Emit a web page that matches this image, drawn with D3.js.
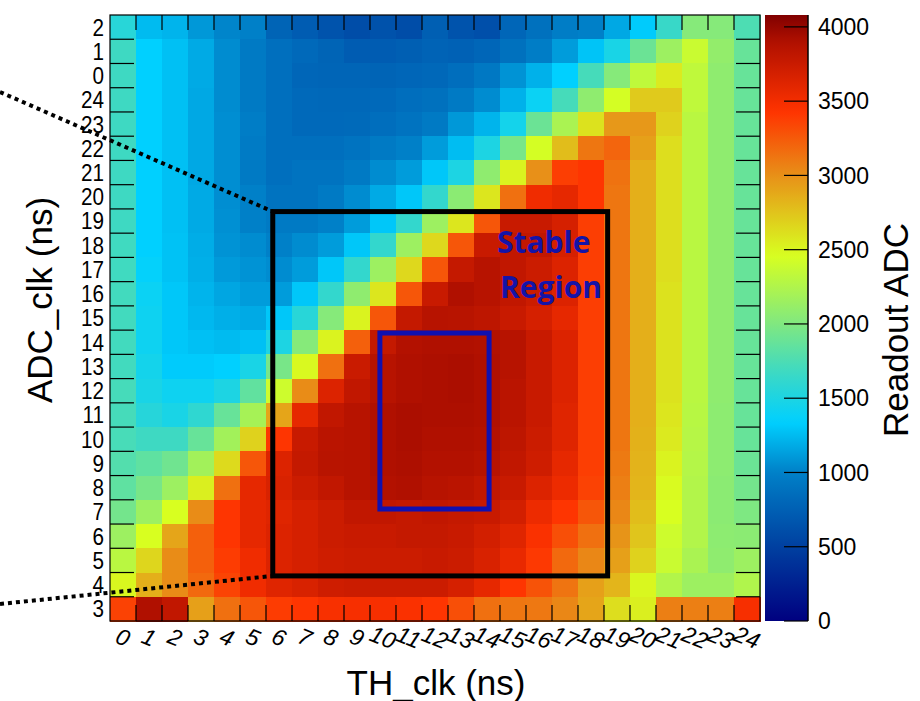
<!DOCTYPE html>
<html lang="en">
<head>
<meta charset="UTF-8">
<title>Readout ADC vs TH_clk / ADC_clk</title>
<script src="https://d3js.org/d3.v7.min.js"></script>
<style>
    body { margin: 0; background: #fff; }
    svg { display: block; font-family: "Liberation Sans", Arial, sans-serif; }
</style>
</head>
<body>
<svg id="chart" width="920" height="701"></svg>
<script>
// x categories (TH_clk, ns) and y categories (ADC_clk, ns) top to bottom
const thLabels = d3.range(0, 25).map(String);
const adcLabels = ["2", "1", "0", "24", "23", "22", "21", "20", "19", "18", "17", "16", "15",
                   "14", "13", "12", "11", "10", "9", "8", "7", "6", "5", "4", "3"];

// readout ADC, one row per ADC_clk label (same order as adcLabels), one value per TH_clk
const readout = [
    [1560,1250,1220,1100,1020,1000,780,720,650,600,640,600,740,650,620,800,880,980,1000,1170,1320,1650,2030,2030,1750],
    [1680,1340,1270,1180,1050,950,870,820,780,720,720,740,770,760,800,880,980,1120,1290,1480,1900,2150,2380,2100,1880],
    [1680,1340,1270,1180,1050,950,870,800,790,790,780,800,810,860,940,1080,1210,1340,1720,2030,2330,2560,2330,2080,1880],
    [1680,1340,1270,1170,1050,950,870,820,810,810,820,860,880,950,1050,1210,1400,1720,2080,2440,2720,2720,2330,2080,1880],
    [1680,1340,1270,1170,1060,980,870,820,820,830,860,900,950,1100,1220,1450,1900,2220,2600,2960,2960,2680,2300,2080,1880],
    [1680,1340,1270,1170,1060,960,870,870,870,900,950,1000,1120,1260,1500,1960,2440,2780,3120,3200,2920,2620,2300,2080,1880],
    [1680,1340,1270,1170,1060,950,870,900,900,950,1050,1120,1300,1500,2080,2520,3000,3380,3420,3140,2850,2620,2300,2080,1880],
    [1680,1340,1270,1180,1060,1000,900,900,950,1050,1180,1300,1620,2060,2580,3150,3520,3580,3420,3120,2850,2620,2300,2080,1880],
    [1680,1340,1270,1180,1070,1000,950,950,1000,1120,1300,1620,2150,2580,3270,3760,3760,3680,3380,3120,2850,2620,2300,2080,1880],
    [1690,1340,1280,1190,1080,1050,1000,1050,1120,1300,1620,2150,2650,3270,3760,3800,3800,3680,3380,3120,2850,2620,2300,2080,1880],
    [1690,1360,1280,1200,1110,1080,1050,1120,1300,1620,2150,2650,3270,3780,3860,3800,3740,3640,3380,3120,2850,2620,2300,2080,1880],
    [1700,1400,1300,1220,1160,1120,1120,1300,1620,2080,2580,3270,3760,3900,3860,3800,3740,3640,3380,3120,2850,2600,2300,2080,1880],
    [1700,1420,1300,1240,1200,1180,1300,1560,2030,2520,3270,3780,3860,3850,3820,3760,3680,3580,3380,3120,2850,2600,2300,2080,1880],
    [1700,1420,1300,1270,1250,1270,1500,2030,2520,3220,3780,3880,3900,3900,3890,3860,3760,3640,3380,3120,2850,2600,2300,2080,1880],
    [1700,1450,1320,1320,1340,1480,1960,2490,3150,3750,3860,3900,3910,3920,3900,3860,3760,3640,3380,3120,2850,2600,2300,2080,1880],
    [1720,1480,1420,1420,1500,1850,2400,3020,3640,3800,3860,3900,3910,3920,3900,3840,3760,3640,3380,3120,2850,2600,2300,2080,1880],
    [1720,1550,1480,1600,1880,2200,2900,3580,3800,3860,3900,3920,3910,3910,3900,3840,3760,3620,3380,3120,2850,2580,2290,2070,1880],
    [1730,1680,1680,1880,2180,2680,3420,3760,3840,3860,3900,3920,3900,3900,3880,3820,3740,3620,3380,3120,2840,2560,2280,2070,1880],
    [1780,1840,1920,2180,2640,3270,3640,3780,3850,3860,3900,3910,3880,3880,3860,3800,3720,3580,3380,3100,2830,2520,2270,2070,1900],
    [1840,1960,2150,2540,3150,3580,3660,3740,3800,3860,3880,3900,3860,3840,3800,3760,3640,3540,3360,3080,2820,2480,2260,2060,1940],
    [1940,2150,2460,3020,3420,3580,3620,3680,3740,3800,3800,3780,3800,3780,3760,3700,3540,3420,3270,3040,2780,2460,2260,2060,1990],
    [2150,2460,2900,3220,3420,3580,3640,3680,3740,3760,3760,3780,3780,3760,3700,3620,3460,3300,3150,2980,2740,2400,2260,2070,2060],
    [2300,2660,3020,3220,3390,3520,3640,3680,3720,3740,3740,3740,3760,3740,3660,3560,3400,3180,3040,2920,2680,2380,2220,2080,2150],
    [2500,2850,3020,3180,3350,3520,3620,3660,3720,3740,3740,3740,3740,3680,3580,3420,3280,3130,2920,2820,2500,2260,2150,2150,2250],
    [3360,3900,3800,2920,3150,3270,3390,3420,3470,3480,3480,3460,3420,3300,3150,3120,3110,3040,2900,2620,2540,3080,3080,3080,3480]
];

const colorTicks = [0, 500, 1000, 1500, 2000, 2500, 3000, 3500, 4000];
const zMax = 4080;

// palette (ROOT-like rainbow)
const paletteStops = [0, 500, 1000, 1340, 1650, 2000, 2460, 3000, 3430, 3900, 4080];
const paletteColors = ["#000080", "#0040a0", "#0080c8", "#00d0ff", "#38d8c8",
                       "#80e880", "#d8ff20", "#e89018", "#ff3300", "#b01000", "#800000"];

const svg = d3.select("#chart");
const plot = { left: 110, right: 760, top: 15, bottom: 621 };

const x = d3.scaleBand().domain(thLabels).range([plot.left, plot.right]);
const y = d3.scaleBand().domain(adcLabels).range([plot.top, plot.bottom]);
// continuous bin coordinates, for ticks and annotations
const xPos = d3.scaleLinear().domain([0, 25]).range([plot.left, plot.right]);
const yPos = d3.scaleLinear().domain([0, 25]).range([plot.top, plot.bottom]);

const color = d3.scaleLinear().domain(paletteStops).range(paletteColors).clamp(true);

// cells
const cells = [];
readout.forEach((row, i) => row.forEach((v, j) => cells.push({ adc: adcLabels[i], th: thLabels[j], v })));

svg.append("g")
    .selectAll("rect")
    .data(cells)
    .join("rect")
    .attr("x", d => x(d.th))
    .attr("y", d => y(d.adc))
    .attr("width", x.bandwidth() + 0.6)
    .attr("height", y.bandwidth() + 0.6)
    .attr("fill", d => color(d.v))
    .attr("shape-rendering", "crispEdges");

// frame
svg.append("rect")
    .attr("x", plot.left).attr("y", plot.top)
    .attr("width", plot.right - plot.left).attr("height", plot.bottom - plot.top)
    .attr("fill", "none").attr("stroke", "#000").attr("stroke-width", 1.2);

// ticks at bin edges
const ticks = svg.append("g").attr("stroke", "#000").attr("stroke-width", 1.2);
d3.range(1, 25).forEach(k => {
    ticks.append("line").attr("x1", plot.left).attr("x2", plot.left + 24)
        .attr("y1", yPos(k)).attr("y2", yPos(k));
    ticks.append("line").attr("x1", plot.right - 24).attr("x2", plot.right)
        .attr("y1", yPos(k)).attr("y2", yPos(k));
    ticks.append("line").attr("x1", xPos(k)).attr("x2", xPos(k))
        .attr("y1", plot.top).attr("y2", plot.top + 15);
    ticks.append("line").attr("x1", xPos(k)).attr("x2", xPos(k))
        .attr("y1", plot.bottom - 16).attr("y2", plot.bottom);
});

// y labels (narrow, tall digits)
const sx = 0.88;
svg.append("g")
    .attr("transform", `scale(${sx},1)`)
    .selectAll("text")
    .data(adcLabels)
    .join("text")
    .attr("x", 104 / sx)
    .attr("y", d => y(d) + y.bandwidth() / 2)
    .attr("dy", "0.36em")
    .attr("text-anchor", "end")
    .attr("font-size", 23.5)
    .text(d => d);

// x labels (tilted)
svg.append("g")
    .selectAll("text")
    .data(thLabels)
    .join("text")
    .attr("transform", d => `translate(${x(d) + x.bandwidth() / 2},637) rotate(22)`)
    .attr("dy", "0.36em")
    .attr("text-anchor", "middle")
    .attr("font-size", 23)
    .attr("font-style", "italic")
    .text(d => d);

// axis titles
svg.append("text")
    .attr("x", 436).attr("y", 695)
    .attr("text-anchor", "middle")
    .attr("font-size", 35)
    .text("TH_clk (ns)");

svg.append("text")
    .attr("transform", "translate(52,300) rotate(-90)")
    .attr("text-anchor", "middle")
    .attr("font-size", 35)
    .text("ADC_clk (ns)");

// colour bar
const cb = { x: 765, w: 43 };
const cScale = d3.scaleLinear().domain([0, zMax]).range([plot.bottom, plot.top]);

const grad = svg.append("defs").append("linearGradient")
    .attr("id", "pal").attr("x1", 0).attr("y1", 1).attr("x2", 0).attr("y2", 0);
d3.range(0, 81).forEach(k => {
    const v = zMax * k / 80;
    grad.append("stop").attr("offset", k / 80).attr("stop-color", color(v));
});

svg.append("rect")
    .attr("x", cb.x).attr("y", plot.top)
    .attr("width", cb.w).attr("height", plot.bottom - plot.top)
    .attr("fill", "url(#pal)");
svg.append("line")
    .attr("x1", cb.x + cb.w).attr("x2", cb.x + cb.w)
    .attr("y1", plot.top).attr("y2", plot.bottom)
    .attr("stroke", "#000").attr("stroke-width", 1.5);

const cbAxis = svg.append("g");
cbAxis.selectAll("line")
    .data(colorTicks)
    .join("line")
    .attr("x1", cb.x + cb.w - 24).attr("x2", cb.x + cb.w)
    .attr("y1", d => cScale(d)).attr("y2", d => cScale(d))
    .attr("stroke", "#000").attr("stroke-width", 1.2);
cbAxis.selectAll("text")
    .data(colorTicks)
    .join("text")
    .attr("x", cb.x + cb.w + 10)
    .attr("y", d => cScale(d))
    .attr("dy", "0.36em")
    .attr("font-size", 23)
    .text(d => d);

svg.append("text")
    .attr("transform", "translate(908,330) rotate(-90)")
    .attr("text-anchor", "middle")
    .attr("font-size", 35)
    .text("Readout ADC");

// annotations
const box = { x0: 6.26, x1: 19.14, y0: 8.11, y1: 23.14 };
const stable = { x0: 10.38, x1: 14.58, y0: 13.12, y1: 20.38 };

svg.append("line")
    .attr("x1", 0).attr("y1", 92)
    .attr("x2", xPos(box.x0)).attr("y2", yPos(box.y0))
    .attr("stroke", "#000").attr("stroke-width", 4).attr("stroke-dasharray", "4 4");
svg.append("line")
    .attr("x1", 0).attr("y1", 604)
    .attr("x2", xPos(box.x0)).attr("y2", yPos(box.y1))
    .attr("stroke", "#000").attr("stroke-width", 4).attr("stroke-dasharray", "4 4");

svg.append("rect")
    .attr("x", xPos(box.x0)).attr("y", yPos(box.y0))
    .attr("width", xPos(box.x1) - xPos(box.x0)).attr("height", yPos(box.y1) - yPos(box.y0))
    .attr("fill", "none").attr("stroke", "#000").attr("stroke-width", 5);

svg.append("rect")
    .attr("x", xPos(stable.x0)).attr("y", yPos(stable.y0))
    .attr("width", xPos(stable.x1) - xPos(stable.x0)).attr("height", yPos(stable.y1) - yPos(stable.y0))
    .attr("fill", "none").attr("stroke", "#1010b0").attr("stroke-width", 5);

const label = svg.append("g")
    .attr("font-family", "'Open Sans', sans-serif")
    .attr("font-weight", "bold")
    .attr("font-size", 30)
    .attr("fill", "#1414a8");
label.append("text").attr("x", xPos(14.88)).attr("y", 253).text("Stable");
label.append("text").attr("x", xPos(15.0)).attr("y", 298).text("Region");
</script>
</body>
</html>
